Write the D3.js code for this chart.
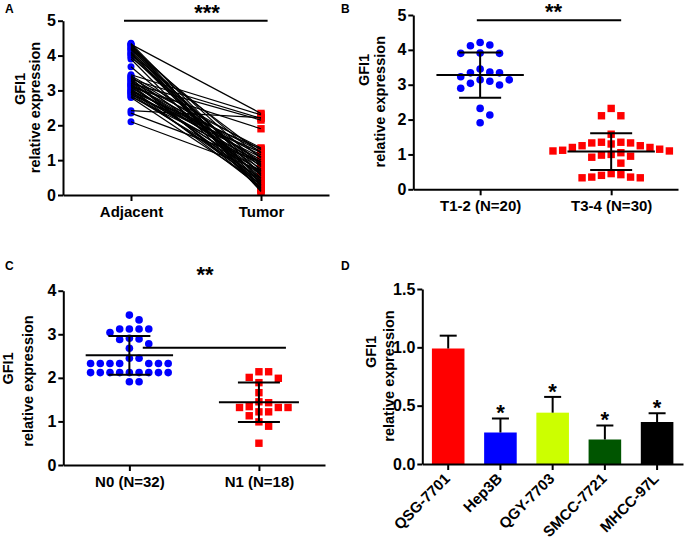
<!DOCTYPE html>
<html>
<head>
<meta charset="utf-8">
<script src="https://cdn.jsdelivr.net/npm/d3@7"></script>
<style>
  body { margin: 0; background: #fff; }
  svg { font-family: "Liberation Sans", Arial, sans-serif; }
  .axis path, .axis line { stroke: #000; stroke-width: 2; }
  .axis text { font-size: 16px; font-weight: bold; fill: #000; }
  .axis.cat text { font-size: 15px; }
  .ytitle { font-size: 14.5px; font-weight: bold; }
  .letter { font-size: 12px; font-weight: bold; }
  .sig { font-size: 22px; font-weight: bold; text-anchor: middle; }
</style>
</head>
<body>
<script>
// ---- data ----
const pairLabels = ['Adjacent', 'Tumor'];
const adjacentVals = [4.35, 4.33, 4.32, 4.30, 4.28, 4.25, 4.22, 4.20, 4.18, 4.15,
                      4.10, 4.08, 4.05, 4.02, 4.00, 3.95, 3.90, 3.68, 3.45, 3.42,
                      3.40, 3.38, 3.35, 3.32, 3.30, 3.28, 3.25, 3.22, 3.20, 3.18,
                      3.16, 3.15, 3.12, 3.10, 3.08, 3.05, 3.02, 3.00, 2.98, 2.96,
                      2.95, 2.92, 2.90, 2.88, 2.85, 2.82, 2.80, 2.42, 2.35, 2.10];
const tumorVals    = [0.55, 0.30, 2.34, 0.15, 0.85, 0.40, 0.10, 1.05, 0.60, 0.25,
                      0.70, 0.20, 0.45, 1.20, 0.35, 0.80, 0.12, 0.50, 2.30, 1.30,
                      0.65, 1.10, 0.18, 2.20, 0.95, 0.28, 1.35, 0.75, 2.15, 1.00,
                      0.42, 1.25, 0.58, 1.90, 0.90, 0.22, 1.15, 0.68, 1.32, 0.38,
                      0.85, 1.08, 0.48, 1.22, 0.62, 0.95, 0.32, 2.22, 0.95, 0.72];

const stageLabels = ['T1-2 (N=20)', 'T3-4 (N=30)'];
const stageT12 = [4.14, 4.21, 4.12, 3.91, 3.90, 3.90, 3.36, 3.34, 3.34, 3.45,
                  3.14, 3.04, 2.90, 2.99, 3.10, 3.14, 3.23, 2.32, 2.13, 1.91];
const stageT34 = [2.32, 2.11, 2.11, 1.58, 1.35, 1.33, 1.30, 1.33, 1.35, 1.25,
                  1.20, 1.15, 1.10, 1.12, 1.20, 1.25, 1.05, 1.00, 0.95, 0.92,
                  0.98, 0.75, 0.45, 0.35, 0.33, 0.33, 0.35, 0.40, 0.42, 1.10];

const nodeLabels = ['N0 (N=32)', 'N1 (N=18)'];
const nodeN0 = [3.44, 3.33, 3.12, 3.12, 3.04, 3.12, 3.12, 2.91, 2.88, 2.89,
                2.78, 2.68, 2.45, 2.45, 2.33, 2.33, 2.33, 2.33, 2.33, 2.33,
                2.33, 2.12, 2.12, 2.12, 2.12, 2.12, 2.12, 2.12, 2.12, 2.12,
                1.91, 1.91];
const nodeN1 = [2.14, 2.14, 1.99, 2.01, 1.89, 1.66, 1.43, 1.45, 1.32, 1.32,
                1.32, 1.34, 1.22, 1.22, 1.13, 0.99, 0.89, 0.50];

const cellLines = ['QSG-7701', 'Hep3B', 'QGY-7703', 'SMCC-7721', 'MHCC-97L'];
const cellMean  = [0.99, 0.27, 0.44, 0.21, 0.36];
const cellSD    = [0.11, 0.12, 0.135, 0.12, 0.075];
const cellStars = ['', '*', '*', '*', '*'];
const cellColors = ['#ff0000', '#0000ff', '#ccff00', '#005500', '#000000'];

const svg = d3.select('body').append('svg')
    .attr('width', 690).attr('height', 540);

// ---- helpers ----
function yAxis(g, y, x0, ticks, fmt){
    g.append('g').attr('class', 'axis')
        .attr('transform', `translate(${x0},0)`)
        .call(d3.axisLeft(y).tickValues(ticks).tickFormat(fmt)
            .tickSize(5).tickPadding(2).tickSizeOuter(0));
}

function xAxis(g, x, y0){
    return g.append('g').attr('class', 'axis cat')
        .attr('transform', `translate(0,${y0})`)
        .call(d3.axisBottom(x).tickSize(6).tickPadding(5).tickSizeOuter(0));
}

function yTitle(g, a, b){
    // a / b = [x, y] centres of the two title lines
    [['GFI1', a], ['relative expression', b]].forEach(([t, p])=>{
        g.append('text').attr('class', 'ytitle')
            .attr('text-anchor', 'middle').attr('dy', '0.35em')
            .attr('transform', `translate(${p[0]},${p[1]}) rotate(-90)`)
            .text(t);
    });
}

function letter(t, x, y){
    svg.append('text').attr('class', 'letter').attr('x', x).attr('y', y).text(t);
}

// simple swarm: place highest first, push sideways until no overlap
function dodge(vals, y, step, minD){
    const placed = [];
    const off = new Array(vals.length);
    d3.range(vals.length).sort((a, b)=>vals[b]-vals[a]).forEach(i=>{
        const py = y(vals[i]);
        for(let k = 0; ; k++){
            const cands = k===0 ? [0] : [k*step, -k*step];
            const ok = cands.find(cx=>placed.every(p=>Math.hypot(p[0]-cx, p[1]-py) >= minD));
            if(ok !== undefined){ off[i] = ok; placed.push([ok, py]); break; }
        }
    });
    return off;
}

function dot(sel, shape, color, size){
    if(shape==='circle'){
        sel.append('circle').attr('r', size/2).attr('fill', color);
    } else {
        sel.append('rect').attr('x', -size/2).attr('y', -size/2)
            .attr('width', size).attr('height', size).attr('fill', color);
    }
}

// ---- panel A: paired ----
(function(){
    const g = svg.append('g');
    const x = d3.scalePoint().domain(pairLabels).range([63, 329]).padding(0.523);
    const y = d3.scaleLinear().domain([0, 5]).range([195, 20.7]);

    adjacentVals.forEach(v=>{
        g.append('g').attr('transform', `translate(${x('Adjacent')},${y(v)})`)
            .call(dot, 'circle', '#0000ff', 7);
    });
    tumorVals.forEach(v=>{
        g.append('g').attr('transform', `translate(${x('Tumor')},${y(v)})`)
            .call(dot, 'square', '#ff0000', 7.4);
    });
    g.selectAll('line.pair').data(d3.zip(adjacentVals, tumorVals))
        .join('line').classed('pair', true)
        .attr('x1', x('Adjacent')).attr('x2', x('Tumor'))
        .attr('y1', d=>y(d[0])).attr('y2', d=>y(d[1]))
        .attr('stroke', '#000').attr('stroke-width', 1.2);

    yAxis(g, y, 63, d3.range(0, 6), d3.format('d'));
    xAxis(g, x, 195);
    yTitle(g, [20, 89], [35, 107.5]);

    g.append('line').attr('x1', x('Adjacent')-7).attr('x2', x('Tumor')+6.6)
        .attr('y1', y(5)).attr('y2', y(5)).attr('stroke', '#000').attr('stroke-width', 2);
    g.append('text').attr('class', 'sig').attr('x', 207).attr('y', 20).text('***');
})();
letter('A', 5, 12.7);

// ---- panels B and C: scatter with mean ± SD ----
function scatterPanel(o){
    const g = svg.append('g');
    const x = d3.scalePoint().domain(o.labels).range([o.x0, o.x1]).padding(0.51);
    const y = d3.scaleLinear().domain([0, o.max]).range([o.yBot, o.yTop]);

    o.groups.forEach((vals, gi)=>{
        const cx = x(o.labels[gi]);
        const shape = gi===0 ? 'circle' : 'square';
        const color = gi===0 ? '#0000ff' : '#ff0000';
        const off = dodge(vals, y, 9.7, 9);
        vals.forEach((v, i)=>{
            g.append('g').attr('transform', `translate(${cx+off[i]},${y(v)})`)
                .call(dot, shape, color, gi===0 ? 7.6 : 7.4);
        });
        const m = d3.mean(vals), sd = d3.deviation(vals);
        const hw = o.meanHalf[gi];
        const eb = g.append('g').attr('stroke', '#000').attr('stroke-width', 2);
        eb.append('line').attr('x1', cx-hw).attr('x2', cx+hw).attr('y1', y(m)).attr('y2', y(m));
        eb.append('line').attr('x1', cx).attr('x2', cx).attr('y1', y(m-sd)).attr('y2', y(m+sd));
        [m-sd, m+sd].forEach(v=>{
            eb.append('line').attr('x1', cx-21).attr('x2', cx+21).attr('y1', y(v)).attr('y2', y(v));
        });
    });

    yAxis(g, y, o.x0, d3.range(0, o.max+1), d3.format('d'));
    xAxis(g, x, o.yBot);
    yTitle(g, o.t1, o.t2);

    g.append('line')
        .attr('x1', x(o.labels[0])+o.sig.dx[0]).attr('x2', x(o.labels[1])+o.sig.dx[1])
        .attr('y1', y(o.sig.v)).attr('y2', y(o.sig.v))
        .attr('stroke', '#000').attr('stroke-width', 2);
    g.append('text').attr('class', 'sig').attr('x', o.sig.tx).attr('y', o.sig.ty).text(o.sig.text);
}

scatterPanel({
    labels: stageLabels, groups: [stageT12, stageT34],
    x0: 413.3, x1: 678, yTop: 15, yBot: 189.3, max: 5,
    meanHalf: [43.7, 43.7],
    t1: [364, 70], t2: [380, 101.7],
    sig: {v: 4.85, dx: [-3.3, 10], text: '**', tx: 553.5, ty: 18.5}
});
letter('B', 341, 12.7);

scatterPanel({
    labels: nodeLabels, groups: [nodeN0, nodeN1],
    x0: 63.3, x1: 325, yTop: 290.7, yBot: 465, max: 4,
    meanHalf: [43.7, 40],
    t1: [8, 368.5], t2: [27.5, 381],
    sig: {v: 2.69, dx: [13.4, 27], text: '**', tx: 205, ty: 282}
});
letter('C', 5, 270.4);

// ---- panel D: bars ----
(function(){
    const g = svg.append('g');
    const x = d3.scaleBand().domain(cellLines).range([422.3, 683])
        .paddingInner(0.376).paddingOuter(0.184);
    const y = d3.scaleLinear().domain([0, 1.5]).range([464, 289]);

    g.selectAll('rect.bar').data(cellLines).join('rect').classed('bar', true)
        .attr('x', d=>x(d)).attr('width', x.bandwidth())
        .attr('y', (d, i)=>y(cellMean[i])).attr('height', (d, i)=>y(0)-y(cellMean[i]))
        .attr('fill', (d, i)=>cellColors[i]);

    cellLines.forEach((c, i)=>{
        const cx = x(c) + x.bandwidth()/2;
        const top = y(cellMean[i] + cellSD[i]);
        const eb = g.append('g').attr('stroke', '#000').attr('stroke-width', 2);
        eb.append('line').attr('x1', cx).attr('x2', cx).attr('y1', y(cellMean[i])).attr('y2', top);
        eb.append('line').attr('x1', cx-8.5).attr('x2', cx+8.5).attr('y1', top).attr('y2', top);
        if(cellStars[i]){
            g.append('text').attr('class', 'sig').attr('x', cx).attr('y', top+1.6).text(cellStars[i]);
        }
    });

    yAxis(g, y, 422.3, [0, 0.5, 1, 1.5], d3.format('.1f'));
    xAxis(g, x, 464).selectAll('text')
        .attr('text-anchor', 'end').attr('x', 0).attr('y', 0).attr('dy', '0.35em')
        .attr('transform', 'translate(-1,12) rotate(-45)');
    yTitle(g, [371, 352], [389, 376]);
})();
letter('D', 341, 270.4);
</script>
</body>
</html>
